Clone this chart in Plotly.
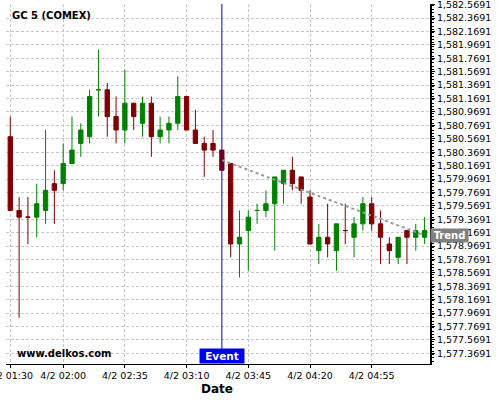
import plotly.graph_objects as go

DAY = "2013-04-02 "
times = ["01:30", "01:35", "01:40", "01:45", "01:50", "01:55", "02:00", "02:05", "02:10", "02:15",
         "02:20", "02:25", "02:30", "02:35", "02:40", "02:45", "02:50", "02:55", "03:00", "03:05",
         "03:10", "03:15", "03:20", "03:25", "03:30", "03:35", "03:40", "03:45", "03:50", "03:55",
         "04:00", "04:05", "04:10", "04:15", "04:20", "04:25", "04:30", "04:35", "04:40", "04:45",
         "04:50", "04:55", "05:00", "05:05", "05:10", "05:15", "05:20", "05:25"]
opens = [1580.6, 1579.5, 1579.4, 1579.4, 1579.5, 1579.9, 1579.9, 1580.2, 1580.5, 1580.6,
         1581.3, 1581.3, 1580.9, 1580.7, 1581.1, 1580.8, 1581.1, 1580.6, 1580.7, 1580.8,
         1581.2, 1580.7, 1580.5, 1580.5, 1580.4, 1580.2, 1579.0, 1579.2, 1579.5, 1579.5,
         1579.6, 1579.9, 1580.1, 1580.0, 1579.7, 1578.9, 1579.1, 1578.9, 1579.2, 1579.1,
         1579.3, 1579.6, 1579.3, 1579.0, 1578.8, 1579.2, 1579.1, 1579.1]
highs = [1580.9, 1579.7, 1579.7, 1579.9, 1580.7, 1580.1, 1580.5, 1580.9, 1580.8, 1581.3,
         1581.9, 1581.4, 1581.2, 1581.6, 1581.1, 1581.2, 1581.2, 1580.9, 1580.9, 1581.5,
         1581.2, 1581.0, 1580.6, 1580.7, 1580.4, 1580.2, 1579.5, 1579.5, 1579.6, 1579.8,
         1580.0, 1580.1, 1580.3, 1580.0, 1579.8, 1579.3, 1579.6, 1579.3, 1579.6, 1579.4,
         1579.7, 1579.7, 1579.5, 1579.1, 1579.1, 1579.2, 1579.3, 1579.4]
lows = [1579.5, 1577.9, 1579.0, 1579.1, 1579.3, 1579.3, 1579.8, 1580.2, 1580.3, 1580.5,
        1580.9, 1580.6, 1580.5, 1580.5, 1580.7, 1580.6, 1580.3, 1580.5, 1580.5, 1580.7,
        1580.7, 1580.5, 1580.0, 1580.3, 1580.1, 1578.8, 1578.5, 1578.6, 1579.3, 1579.4,
        1578.9, 1579.6, 1579.8, 1579.6, 1579.0, 1578.7, 1578.8, 1578.6, 1579.0, 1578.8,
        1579.2, 1579.2, 1578.7, 1578.7, 1578.7, 1578.7, 1578.9, 1579.0]
closes = [1579.5, 1579.4, 1579.4, 1579.6, 1579.8, 1579.8, 1580.2, 1580.4, 1580.7, 1581.2,
          1581.3, 1580.9, 1580.7, 1581.1, 1580.9, 1581.1, 1580.6, 1580.7, 1580.8, 1581.2,
          1580.7, 1580.5, 1580.4, 1580.4, 1580.1, 1579.0, 1579.1, 1579.4, 1579.5, 1579.6,
          1580.0, 1580.1, 1579.9, 1579.8, 1579.0, 1579.1, 1579.0, 1579.3, 1579.2, 1579.3,
          1579.6, 1579.3, 1579.1, 1578.9, 1579.1, 1579.1, 1579.2, 1579.2]

trend_times = ["03:30", "05:25"]
trend_values = [1580.25, 1579.13]

event_time = "03:30"

xtick_times = ["01:30", "02:00", "02:35", "03:10", "03:45", "04:20", "04:55"]
xtick_labels = ["4/2 01:30", "4/2 02:00", "4/2 02:35", "4/2 03:10", "4/2 03:45", "4/2 04:20", "4/2 04:55"]

x_range = ["2013-04-02 01:27:34", "2013-04-02 05:28:04"]
y_range = [1577.2096, 1582.5795]

FONT = "DejaVu Sans"
GREEN = "#008000"
RED = "#800000"

fig = go.Figure()

fig.add_trace(go.Scatter(
    x=[DAY + t for t in trend_times], y=trend_values, mode="lines",
    line=dict(color="#999999", width=2, dash="dot"), hoverinfo="skip", showlegend=False))

fig.add_trace(go.Candlestick(
    x=[DAY + t for t in times], open=opens, high=highs, low=lows, close=closes,
    increasing=dict(line=dict(color=GREEN, width=1), fillcolor=GREEN),
    decreasing=dict(line=dict(color=RED, width=1), fillcolor=RED),
    whiskerwidth=0, showlegend=False))

fig.add_shape(type="line", xref="x", yref="paper", x0=DAY + event_time, x1=DAY + event_time,
              y0=0, y1=1, line=dict(color="#0000ee", width=1))

fig.add_annotation(x=DAY + event_time, xref="x", y=0, yref="paper", yanchor="bottom",
                   text="<b>Event</b>", showarrow=False, bgcolor="#0000ee",
                   width=42, height=12, align="center",
                   font=dict(family=FONT, size=10.5, color="white"), borderpad=1)
fig.add_annotation(x=1, xref="paper", xanchor="left", y=trend_values[-1], yref="y",
                   text="<b>Trend</b>", showarrow=False, bgcolor="#808080",
                   width=35, height=11, align="center",
                   font=dict(family=FONT, size=10, color="white"), borderpad=1)
fig.add_annotation(x=0.0094, xref="paper", xanchor="left", y=0.9686, yref="paper", yanchor="middle",
                   text="<b>GC 5 (COMEX)</b>", showarrow=False,
                   font=dict(family=FONT, size=10, color="black"))
fig.add_annotation(x=0.0212, xref="paper", xanchor="left", y=0.0278, yref="paper", yanchor="middle",
                   text="<b>www.delkos.com</b>", showarrow=False,
                   font=dict(family=FONT, size=10, color="black"))
fig.add_annotation(x=0.4976, xref="paper", xanchor="center", y=-0.0694, yref="paper", yanchor="middle",
                   text="<b>Date</b>", showarrow=False,
                   font=dict(family=FONT, size=12, color="black"))

fig.update_layout(
    width=500, height=400,
    margin=dict(l=6, r=70, t=4, b=36, autoexpand=False),
    paper_bgcolor="white", plot_bgcolor="white",
    font=dict(family=FONT, size=9.5, color="black"),
    showlegend=False,
    xaxis=dict(
        type="date", range=x_range, rangeslider=dict(visible=False), automargin=False,
        tickvals=[DAY + t for t in xtick_times], ticktext=xtick_labels,
        ticks="outside", ticklen=3, tickcolor="black",
        showline=True, linecolor="black", linewidth=1, mirror=False,
        showgrid=True, gridcolor="#c8c8c8", gridwidth=1, griddash="3px,2px",
        zeroline=False, ticklabeloverflow="allow",
        tickfont=dict(family=FONT, size=9.5, color="black"),
    ),
    yaxis=dict(
        side="right", range=y_range, automargin=False,
        tick0=1577.3691, dtick=0.2, tickformat=",.4f",
        ticks="outside", ticklen=3, tickcolor="black",
        minor=dict(dtick=0.05, ticks="outside", ticklen=2, tickcolor="black", showgrid=False),
        showline=True, linecolor="black", linewidth=2,
        showgrid=True, gridcolor="#c8c8c8", gridwidth=1, griddash="3px,2px",
        zeroline=False, ticklabeloverflow="allow",
        tickfont=dict(family=FONT, size=9.5, color="black"),
    ),
)

fig.write_html("out.html", config={"displayModeBar": False},
               post_script="document.body.style.margin='0';document.body.style.padding='0';"
                           "document.documentElement.style.overflow='hidden';")
